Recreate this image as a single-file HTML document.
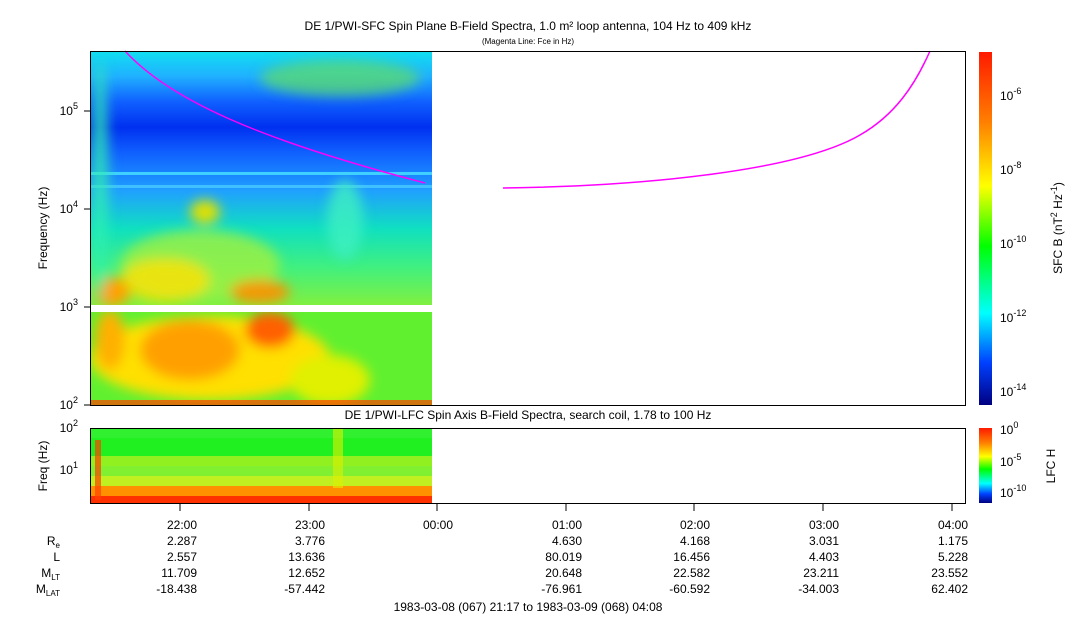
<!DOCTYPE html>
<html><head><meta charset="utf-8"><style>
html,body{margin:0;padding:0;background:#fff;}
svg{display:block;font-family:"Liberation Sans",sans-serif;}
</style></head><body>
<svg width="1083" height="620" viewBox="0 0 1083 620" xmlns="http://www.w3.org/2000/svg">
<defs>
<linearGradient id="cb" x1="0" y1="0" x2="0" y2="1">
<stop offset="0" stop-color="#ff1a00"/><stop offset="0.2" stop-color="#ff8000"/><stop offset="0.38" stop-color="#ffff00"/><stop offset="0.55" stop-color="#00ff00"/><stop offset="0.74" stop-color="#00ffff"/><stop offset="0.88" stop-color="#0040ff"/><stop offset="1" stop-color="#000080"/>
</linearGradient>
<linearGradient id="up" x1="0" y1="0" x2="0" y2="1">
<stop offset="0" stop-color="#10e0f0"/><stop offset="0.1" stop-color="#20b0ff"/><stop offset="0.2" stop-color="#1060ff"/><stop offset="0.3" stop-color="#0030f0"/><stop offset="0.4" stop-color="#1060ff"/><stop offset="0.55" stop-color="#20a0ff"/><stop offset="0.7" stop-color="#10e0c0"/><stop offset="0.85" stop-color="#40f080"/><stop offset="1" stop-color="#80f040"/>
</linearGradient>
<filter id="bl"><feGaussianBlur stdDeviation="6"/></filter>
<clipPath id="c1"><rect x="90" y="51" width="342" height="254"/></clipPath>
<clipPath id="c2"><rect x="90" y="312" width="342" height="93"/></clipPath>
</defs>
<text x="528" y="30" font-size="12" text-anchor="middle">DE 1/PWI-SFC  Spin Plane B-Field Spectra, 1.0 m² loop antenna, 104 Hz to 409 kHz</text>
<text x="528" y="44" font-size="8" text-anchor="middle">(Magenta Line: Fce in Hz)</text>
<g clip-path="url(#c1)">
<rect x="90" y="51" width="342" height="254" fill="url(#up)"/>
<rect x="90" y="172" width="342" height="3" fill="#40d0ff"/>
<rect x="90" y="185" width="342" height="3" fill="#40c0ff"/>
<g filter="url(#bl)">
<ellipse cx="340" cy="78" rx="80" ry="18" fill="#60e060" opacity="0.7"/>
<ellipse cx="200" cy="265" rx="80" ry="35" fill="#a0f040" opacity="0.8"/>
<ellipse cx="165" cy="280" rx="45" ry="22" fill="#ffe000" opacity="0.8"/>
<ellipse cx="260" cy="292" rx="30" ry="12" fill="#ff9000" opacity="0.9"/>
<ellipse cx="112" cy="292" rx="18" ry="14" fill="#ffa000"/>
<ellipse cx="205" cy="212" rx="15" ry="12" fill="#e0e000"/>
<ellipse cx="345" cy="220" rx="18" ry="40" fill="#40f0c0" opacity="0.8"/>
<ellipse cx="100" cy="180" rx="8" ry="120" fill="#30f0b0" opacity="0.8"/>
</g>
</g>
<g clip-path="url(#c2)">
<rect x="90" y="312" width="342" height="93" fill="#60f030"/>
<g filter="url(#bl)">
<ellipse cx="210" cy="358" rx="120" ry="42" fill="#ffe000"/>
<ellipse cx="190" cy="350" rx="50" ry="30" fill="#ffa000"/>
<ellipse cx="270" cy="330" rx="25" ry="18" fill="#ff6000"/>
<ellipse cx="110" cy="340" rx="15" ry="30" fill="#ffb000"/>
<ellipse cx="330" cy="380" rx="40" ry="25" fill="#e0f000"/>
</g>
<rect x="90" y="400" width="342" height="5" fill="#ff4000" opacity="0.7"/>
</g>
<path fill="none" stroke="#ff00ff" stroke-width="1.5" d="M125,51 C170,100 260,140 425,183"/>
<path fill="none" stroke="#ff00ff" stroke-width="1.5" d="M503,188 C650,186 800,170 860,135 C895,115 915,85 930,51"/>
<rect x="90.5" y="51.5" width="875" height="354" fill="none" stroke="#000"/>
<g font-size="12" text-anchor="end">
<text x="78" y="409">10<tspan dy="-6" font-size="9">2</tspan></text>
<text x="78" y="311">10<tspan dy="-6" font-size="9">3</tspan></text>
<text x="78" y="213">10<tspan dy="-6" font-size="9">4</tspan></text>
<text x="78" y="115">10<tspan dy="-6" font-size="9">5</tspan></text>
</g>
<g stroke="#000">
<line x1="84" y1="405" x2="90" y2="405"/><line x1="84" y1="307" x2="90" y2="307"/><line x1="84" y1="209" x2="90" y2="209"/><line x1="84" y1="111" x2="90" y2="111"/>
</g>
<text transform="translate(47,228) rotate(-90)" font-size="12" text-anchor="middle">Frequency (Hz)</text>
<rect x="979" y="52" width="13" height="353" fill="url(#cb)"/>
<g font-size="12">
<text x="1000" y="100">10<tspan dy="-6" font-size="9">-6</tspan></text>
<text x="1000" y="174">10<tspan dy="-6" font-size="9">-8</tspan></text>
<text x="1000" y="248">10<tspan dy="-6" font-size="9">-10</tspan></text>
<text x="1000" y="322">10<tspan dy="-6" font-size="9">-12</tspan></text>
<text x="1000" y="396">10<tspan dy="-6" font-size="9">-14</tspan></text>
</g>
<text transform="translate(1062,228) rotate(-90)" font-size="12" text-anchor="middle">SFC B (nT<tspan dy="-5" font-size="9">2</tspan><tspan dy="5"> Hz</tspan><tspan dy="-5" font-size="9">-1</tspan><tspan dy="5">)</tspan></text>
<text x="528" y="419" font-size="12" text-anchor="middle">DE 1/PWI-LFC  Spin Axis B-Field Spectra, search coil, 1.78 to 100 Hz</text>
<rect x="90" y="428" width="342" height="10" fill="#30f030"/>
<rect x="90" y="438" width="342" height="18" fill="#20f020"/>
<rect x="90" y="456" width="342" height="10" fill="#90f020"/>
<rect x="90" y="466" width="342" height="10" fill="#80f030"/>
<rect x="90" y="476" width="342" height="10" fill="#c0f020"/>
<rect x="90" y="486" width="342" height="10" fill="#ff9000"/>
<rect x="90" y="496" width="342" height="8" fill="#ff3000"/>
<rect x="333" y="428" width="10" height="60" fill="#e0f000" opacity="0.6"/>
<rect x="95" y="440" width="6" height="60" fill="#ff4000" opacity="0.7"/>
<rect x="90.5" y="428.5" width="875" height="75" fill="none" stroke="#000"/>
<g font-size="12" text-anchor="end">
<text x="78" y="432">10<tspan dy="-6" font-size="9">2</tspan></text>
<text x="78" y="474">10<tspan dy="-6" font-size="9">1</tspan></text>
</g>
<text transform="translate(47,466) rotate(-90)" font-size="12" text-anchor="middle">Freq (Hz)</text>
<rect x="979" y="428" width="13" height="75" fill="url(#cb)"/>
<g font-size="12">
<text x="1000" y="434">10<tspan dy="-6" font-size="9">0</tspan></text>
<text x="1000" y="466">10<tspan dy="-6" font-size="9">-5</tspan></text>
<text x="1000" y="497">10<tspan dy="-6" font-size="9">-10</tspan></text>
</g>
<text transform="translate(1055,466) rotate(-90)" font-size="12" text-anchor="middle">LFC H</text>
<g stroke="#000">
<line x1="180" y1="503" x2="180" y2="511"/><line x1="309" y1="503" x2="309" y2="511"/><line x1="437" y1="503" x2="437" y2="511"/><line x1="566" y1="503" x2="566" y2="511"/><line x1="694" y1="503" x2="694" y2="511"/><line x1="823" y1="503" x2="823" y2="511"/><line x1="952" y1="503" x2="952" y2="511"/>
</g>
<g font-size="12" text-anchor="end">
<text x="197" y="529">22:00</text><text x="325" y="529">23:00</text><text x="453" y="529">00:00</text><text x="582" y="529">01:00</text><text x="710" y="529">02:00</text><text x="839" y="529">03:00</text><text x="968" y="529">04:00</text>
<text x="197" y="545">2.287</text><text x="325" y="545">3.776</text><text x="582" y="545">4.630</text><text x="710" y="545">4.168</text><text x="839" y="545">3.031</text><text x="968" y="545">1.175</text>
<text x="197" y="561">2.557</text><text x="325" y="561">13.636</text><text x="582" y="561">80.019</text><text x="710" y="561">16.456</text><text x="839" y="561">4.403</text><text x="968" y="561">5.228</text>
<text x="197" y="577">11.709</text><text x="325" y="577">12.652</text><text x="582" y="577">20.648</text><text x="710" y="577">22.582</text><text x="839" y="577">23.211</text><text x="968" y="577">23.552</text>
<text x="197" y="593">-18.438</text><text x="325" y="593">-57.442</text><text x="582" y="593">-76.961</text><text x="710" y="593">-60.592</text><text x="839" y="593">-34.003</text><text x="968" y="593">62.402</text>
<text x="60" y="545">R<tspan dy="3" font-size="8">e</tspan></text>
<text x="60" y="561">L</text>
<text x="60" y="577">M<tspan dy="3" font-size="8">LT</tspan></text>
<text x="60" y="593">M<tspan dy="3" font-size="8">LAT</tspan></text>
</g>
<text x="528" y="611" font-size="12" text-anchor="middle">1983-03-08 (067) 21:17 to 1983-03-09 (068) 04:08</text>
</svg>
</body></html>
